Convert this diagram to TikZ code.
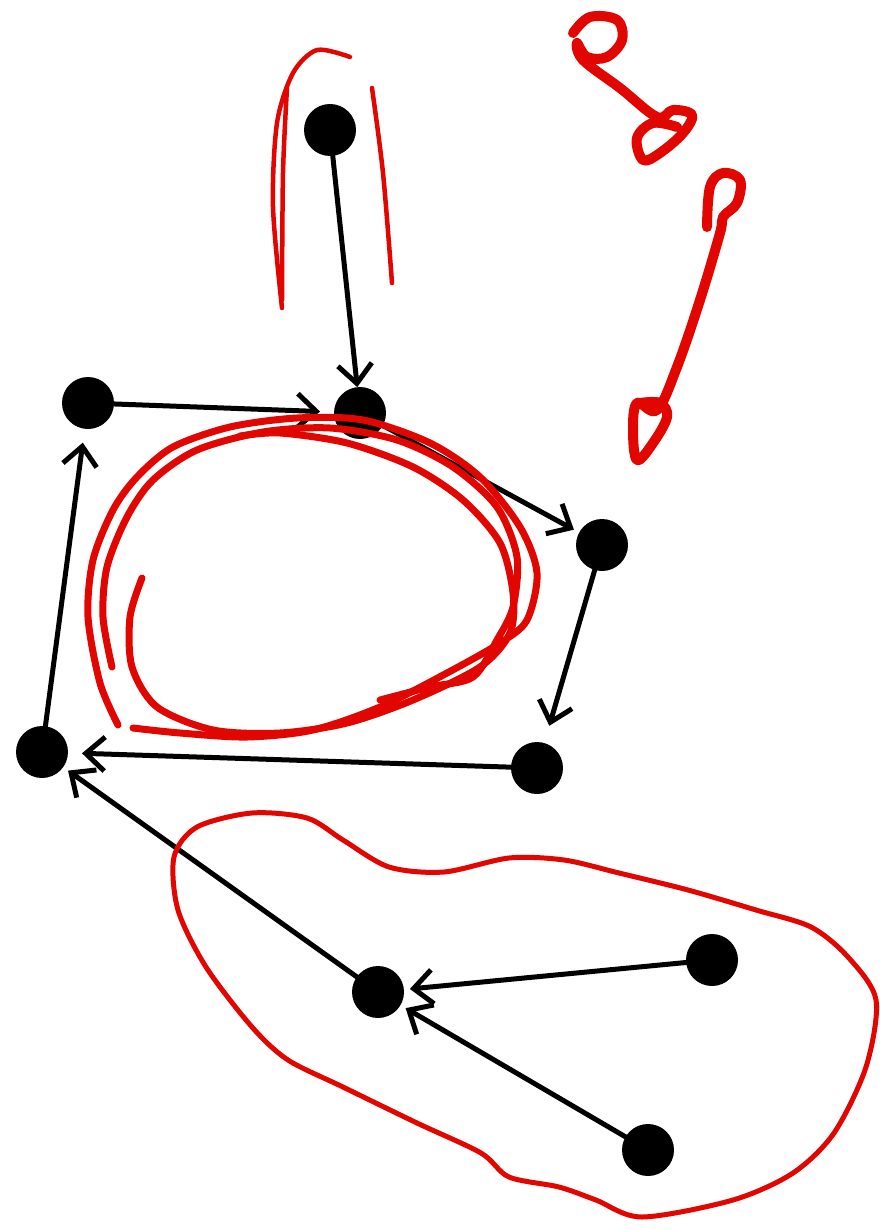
\documentclass[tikz,border=0pt]{standalone}
\usepackage{tikz}
\usetikzlibrary{arrows.meta, positioning}
\definecolor{inkred}{HTML}{E10600}

\begin{document}
\begin{tikzpicture}[
    x=1pt, y=-1pt,
    dot/.style={circle, fill=black, minimum size=52pt, inner sep=0pt, outer sep=0pt},
    link/.style={line width=5pt, line cap=round,
                 -{Straight Barb[length=19pt,width=34pt]}, shorten >=6pt},
    ink/.style={draw=inkred, line width=7pt, line cap=round, line join=round},
    thinink/.style={draw=inkred, line width=4.5pt, line cap=round}
]
\fill[white] (0,0) rectangle (879,1230);
\useasboundingbox (0,0) rectangle (879,1230);

\node[dot] (top) at (330,130) {};
\node[dot] (tl)  at (88,403)  {};
\node[dot] (mid) at (360,413) {};
\node[dot] (rt)  at (602,545) {};
\node[dot] (bl)  at (42,752)  {};
\node[dot] (br)  at (537,768) {};
\node[dot] (hub) at (378,992) {};
\node[dot] (far) at (712,960) {};
\node[dot] (low) at (648,1150) {};

\draw[link, shorten >=0pt] (top) -- (mid);
\draw[link, shorten >=14pt] (tl) -- (mid);
\draw[link] (mid) -- (rt);
\draw[link, shorten >=18pt] (rt) -- (br);
\draw[link, shorten >=14pt] (br) -- (bl);
\draw[link, shorten >=14pt] (bl) -- (tl);
\draw[link] (hub) -- (bl);
\draw[link] (far) -- (hub);
\draw[link] (low) -- (hub);

% red marks
\draw[thinink] plot[smooth] coordinates {(282,308) (273,207) (277,123) (293,73) (317,50) (350,57)};
\draw[thinink] plot[smooth] coordinates {(287,88) (283,173) (282,300)};
\draw[thinink] plot[smooth] coordinates {(372,88) (383,173) (392,283)};

\draw[ink, line width=10pt] plot[smooth, tension=0.6] coordinates {(573,33) (590,17) (617,20) (622,40) (607,57) (587,57) (577,43) (583,60) (620,88) (657,117) (673,110) (692,115) (683,133) (660,153) (643,160) (637,138) (653,123) (677,127)};
\draw[ink, line width=10pt] plot[smooth, tension=0.6] coordinates {(707,227) (710,187) (723,173) (740,180) (737,203) (723,217) (720,233) (700,300) (677,367) (657,410) (637,403) (633,430) (637,460) (653,443) (667,417) (660,403) (640,403)};

\draw[ink] plot[smooth] coordinates {(118,725) (100,683) (88,617) (93,560) (113,510) (137,477) (173,447) (230,427) (297,418) (363,420) (430,443) (480,477) (520,527) (537,573) (527,620) (500,643) (447,673) (380,707) (313,730) (247,737) (180,733) (133,728)};
\draw[ink] plot[smooth] coordinates {(112,667) (103,617) (107,567) (127,517) (153,480) (197,450) (263,432) (330,428) (397,440) (453,467) (497,507) (517,557) (513,607) (497,640) (473,677) (430,687) (380,700)};
\draw[ink] plot[smooth] coordinates {(142,578) (130,617) (132,667) (157,707) (213,730) (280,733) (347,723) (413,700) (480,667) (510,633) (513,593) (500,543) (463,500) (413,467) (347,443) (280,433) (240,436)};

\draw[ink, line width=5pt] plot[smooth cycle] coordinates {(174,857) (197,827) (252,813) (307,818) (343,840) (389,867) (444,872) (509,858) (564,860) (619,873) (688,890) (756,910) (811,927) (848,957) (876,1000) (866,1067) (834,1133) (793,1173) (733,1200) (642,1217) (596,1200) (559,1187) (509,1177) (481,1153) (417,1123) (343,1087) (288,1060) (252,1027) (206,967) (178,910)};
\end{tikzpicture}
\end{document}
